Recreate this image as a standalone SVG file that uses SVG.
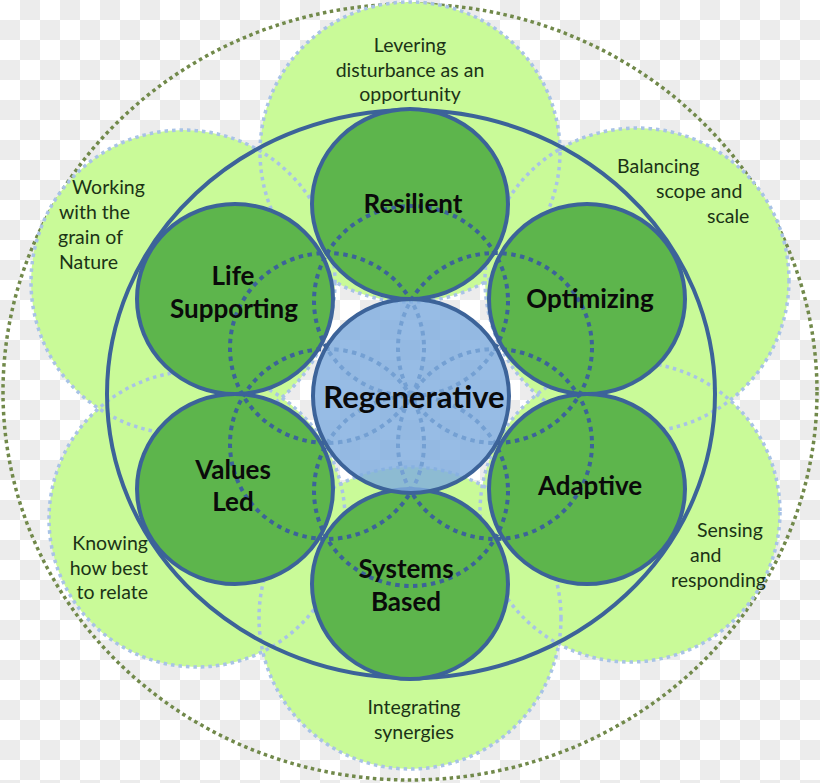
<svg xmlns="http://www.w3.org/2000/svg" width="820" height="783" viewBox="0 0 820 783">
<defs>
<pattern id="checker" width="40" height="40" patternUnits="userSpaceOnUse">
<rect width="40" height="40" fill="#ffffff"/>
<rect x="20" y="0" width="20" height="20" fill="#ececec"/>
<rect x="0" y="20" width="20" height="20" fill="#ececec"/>
</pattern>
<style>
.petal{fill:#c9fa98;stroke:none}
.petal-edge{fill:none;stroke:#a8c3e6;stroke-width:3.5;stroke-dasharray:3.5 4}
.outer{fill:none;stroke:#71894a;stroke-width:3.5;stroke-dasharray:3.5 3.5}
.ring{fill:none;stroke:#3c6399;stroke-width:4}
.core{fill:#5db54c;stroke:#3c6399;stroke-width:4}
.seed{fill:none;stroke:#3c6399;stroke-width:4;stroke-dasharray:4.5 4.5}
.regen{fill:#80addf;fill-opacity:0.82;stroke:#3c6399;stroke-width:4}
.small{font-family:Lato,"Liberation Sans",sans-serif;font-size:19.5px;fill:#1b3316}
.bold{font-family:Lato,"Liberation Sans",sans-serif;font-size:26px;font-weight:bold;fill:#0a0a0a;text-anchor:middle}
</style>
</defs>
<rect width="820" height="783" fill="url(#checker)"/>
<ellipse class="outer" cx="410" cy="392" rx="407" ry="388"/>
<g id="petals">
<circle class="petal" cx="410" cy="152" r="150"/>
<circle class="petal" cx="637" cy="280" r="152"/>
<circle class="petal" cx="630" cy="512" r="150"/>
<circle class="petal" cx="410" cy="618" r="151"/>
<circle class="petal" cx="197" cy="519" r="148"/>
<circle class="petal" cx="183" cy="282" r="152"/>
<circle class="petal-edge" cx="410" cy="152" r="150"/>
<circle class="petal-edge" cx="637" cy="280" r="152"/>
<circle class="petal-edge" cx="630" cy="512" r="150"/>
<circle class="petal-edge" cx="410" cy="618" r="151"/>
<circle class="petal-edge" cx="197" cy="519" r="148"/>
<circle class="petal-edge" cx="183" cy="282" r="152"/>
</g>
<g id="petal-labels">
<text class="small" text-anchor="middle" x="410" y="52">Levering</text>
<text class="small" text-anchor="middle" x="410" y="77">disturbance as an</text>
<text class="small" text-anchor="middle" x="410" y="101">opportunity</text>
<text class="small" x="617" y="173">Balancing</text>
<text class="small" x="656" y="198">scope  and</text>
<text class="small" x="707" y="223">scale</text>
<text class="small" x="72" y="194">Working</text>
<text class="small" x="59" y="219">with the</text>
<text class="small" x="58" y="244">grain of</text>
<text class="small" x="59" y="269">Nature</text>
<text class="small" text-anchor="end" x="148" y="550">Knowing</text>
<text class="small" text-anchor="end" x="148" y="575">how best</text>
<text class="small" text-anchor="end" x="148" y="599">to relate</text>
<text class="small" x="697" y="537">Sensing</text>
<text class="small" x="690" y="562">and</text>
<text class="small" x="671" y="587">responding</text>
<text class="small" text-anchor="middle" x="414" y="714">Integrating</text>
<text class="small" text-anchor="middle" x="414" y="739">synergies</text>
</g>
<ellipse id="boundary" class="ring" cx="411" cy="394" rx="304" ry="284"/>
<g id="resilient"><ellipse class="core" cx="410" cy="204" rx="98" ry="95"/></g>
<g id="optimizing"><ellipse class="core" cx="587" cy="299" rx="98" ry="95"/></g>
<g id="adaptive"><ellipse class="core" cx="587" cy="489" rx="98" ry="95"/></g>
<g id="systems-based"><ellipse class="core" cx="410" cy="584" rx="98" ry="95"/></g>
<g id="values-led"><ellipse class="core" cx="235" cy="489" rx="98" ry="95"/></g>
<g id="life-supporting"><ellipse class="core" cx="235" cy="299" rx="98" ry="95"/></g>
<g id="connectors">
<ellipse class="seed" cx="411" cy="301" rx="97" ry="95"/>
<ellipse class="seed" cx="495" cy="348" rx="97" ry="95"/>
<ellipse class="seed" cx="495" cy="444" rx="97" ry="95"/>
<ellipse class="seed" cx="411" cy="491" rx="97" ry="95"/>
<ellipse class="seed" cx="327" cy="444" rx="97" ry="95"/>
<ellipse class="seed" cx="327" cy="348" rx="97" ry="95"/>
</g>
<g id="regenerative">
<ellipse class="regen" cx="411" cy="396" rx="98" ry="97"/>
<text class="bold" x="414" y="408" style="font-size:31px">Regenerative</text>
</g>
<g id="labels">
<text class="bold" x="413" y="213">Resilient</text>
<text class="bold" x="233" y="285">Life</text>
<text class="bold" x="234" y="318">Supporting</text>
<text class="bold" x="590" y="308">Optimizing</text>
<text class="bold" x="590" y="495">Adaptive</text>
<text class="bold" x="233" y="479">Values</text>
<text class="bold" x="233" y="511">Led</text>
<text class="bold" x="406" y="578">Systems</text>
<text class="bold" x="406" y="611">Based</text>
</g>
</svg>
